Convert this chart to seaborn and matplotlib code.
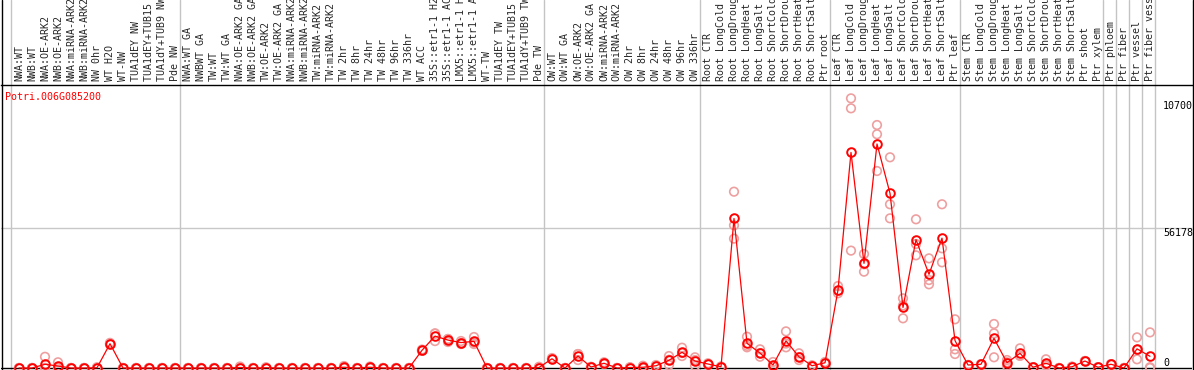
import pandas as pd
import matplotlib
matplotlib.use('Agg')
from matplotlib import pyplot as plt
from matplotlib import transforms as mtransforms
from matplotlib.lines import Line2D
import seaborn as sns

# Sample names (top axis)
sample_labels = [
    'NWA:WT', 'NWB:WT', 'NWA:OE-ARK2', 'NWB:OE-ARK2', 'NWA:miRNA-ARK2', 'NWB:miRNA-ARK2',
    'NW 0hr', 'WT H2O', 'WT-NW', 'TUA1dEY NW', 'TUA1dEY+TUB15 NW', 'TUA1dY+TUB9 NW', 'Pde NW',
    'NWA:WT GA', 'NWBWT GA', 'TW:WT', 'TW:WT GA', 'NWA:OE-ARK2 GA', 'NWB:OE-ARK2 GA',
    'TW:OE-ARK2', 'TW:OE-ARK2 GA', 'NWA:miRNA-ARK2 GA', 'NWB:miRNA-ARK2 GA', 'TW:miRNA-ARK2',
    'TW:miRNA-ARK2 GA', 'TW 2hr', 'TW 8hr', 'TW 24hr', 'TW 48hr', 'TW 96hr', 'TW 336hr', 'WT ACC',
    '35S::etr1-1 H2O', '35S::etr1-1 ACC', 'LMX5::etr1-1 H2O', 'LMX5::etr1-1 ACC', 'WT-TW',
    'TUA1dEY TW', 'TUA1dEY+TUB15 TW', 'TUA1dY+TUB9 TW', 'Pde TW',
    'OW:WT', 'OW:WT GA', 'OW:OE-ARK2', 'OW:OE-ARK2 GA', 'OW:miRNA-ARK2', 'OW:miRNA-ARK2 GA',
    'OW 2hr', 'OW 8hr', 'OW 24hr', 'OW 48hr', 'OW 96hr', 'OW 336hr',
    'Root CTR', 'Root LongCold', 'Root LongDrought', 'Root LongHeat', 'Root LongSalt',
    'Root ShortCold', 'Root ShortDrought', 'Root ShortHeat', 'Root ShortSalt', 'Ptr root',
    'Leaf CTR', 'Leaf LongCold', 'Leaf LongDrought', 'Leaf LongHeat', 'Leaf LongSalt',
    'Leaf ShortCold', 'Leaf ShortDrought', 'Leaf ShortHeat', 'Leaf ShortSalt', 'Ptr leaf',
    'Stem CTR', 'Stem LongCold', 'Stem LongDrought', 'Stem LongHeat', 'Stem LongSalt',
    'Stem ShortCold', 'Stem ShortDrought', 'Stem ShortHeat', 'Stem ShortSalt', 'Ptr shoot',
    'Ptr xylem', 'Ptr phloem', 'Ptr fiber', 'Ptr vessel', 'Ptr fiber vessel',
]

# Mean expression per sample
mean_expr = [
    0, 0, 1500, 800, 0, 0, 100, 9750, 0, 0, 0, 0, 0,
    0, 0, 0, 0, 200, 0, 100, 0, 0, 0, 0, 0, 300, 0, 300, 0, 0, 0,
    7100, 12800, 11200, 10200, 10700, 0, 0, 0, 0, 200,
    3700, 0, 4800, 400, 1900, 0, 200, 300, 900, 3100, 6300, 2800,
    1600, 500, 60000, 9900, 6000, 1200, 10900, 4500, 900, 2100,
    31300, 86500, 42000, 89900, 70100, 24300, 51500, 37600, 52100, 11000,
    1200, 1500, 11900, 2100, 5900, 300, 1900, 0, 500, 2800,
    300, 1500, 0, 7700, 4700,
]

# Replicates
rep_a = [
    0, 0, 4500, 2300, 0, 0, 300, 10100, 0, 0, 0, 0, 0,
    0, 0, 0, 0, 600, 0, 300, 0, 0, 0, 0, 0, 800, 0, 600, 0, 0, 0,
    7400, 13900, 11650, 10830, 12430, 0, 0, 0, 0, 500,
    4000, 0, 5600, 500, 2300, 0, 300, 900, 1200, 4800, 8150, 4300,
    1900, 600, 70750, 12560, 7500, 2400, 14700, 5900, 1100, 2400,
    32900, 108200, 45750, 97500, 84550, 27970, 59670, 44000, 65700, 19540,
    1200, 1500, 17660, 3200, 7900, 300, 3500, 0, 500, 2800,
    300, 1500, 0, 12300, 14300,
]
rep_b = [
    0, 0, 0, 0, 0, 0, 0, 9500, 0, 0, 0, 0, 0,
    0, 0, 0, 0, 0, 0, 0, 0, 0, 0, 0, 0, 100, 0, 300, 0, 0, 0,
    6900, 13800, 11650, 10000, 10050, 0, 0, 0, 0, 100,
    3500, 0, 5600, 400, 1700, 0, 200, 0, 800, 1200, 4800, 900,
    1400, 500, 57260, 8300, 4530, 600, 8300, 3200, 800, 1900,
    30000, 104200, 38650, 93800, 65700, 19940, 49760, 35300, 48030, 7500,
    1200, 1500, 13900, 800, 4900, 300, 1100, 0, 500, 2800,
    300, 1500, 0, 3500, 300,
]
rep_c = [
    0, 0, 0, 100, 0, 0, 0, 9650, 0, 0, 0, 0, 0,
    0, 0, 0, 0, 0, 0, 0, 0, 0, 0, 0, 0, 0, 0, 0, 0, 0, 0,
    7000, 10800, 10430, 9620, 9620, 0, 0, 0, 0, 0,
    3600, 0, 3200, 300, 1700, 0, 100, 0, 700, 3300, 6000, 3200,
    1500, 400, 51900, 8900, 6000, 600, 9800, 4400, 800, 2000,
    31000, 47100, 41600, 79050, 60060, 25100, 45220, 33580, 42400, 5620,
    1200, 1500, 4300, 2300, 4900, 300, 1100, 0, 500, 2800,
    300, 1500, 0, 7300, 0,
]

# First sample index of each tissue group (vertical separators)
group_starts = [0, 13, 41, 53, 63, 73, 84, 85, 86, 87, 88]

gene_id = 'Potri.006G085200'
ytick_values = [0, 56178, 107000]
ytick_labels = ['0', '56178', '10700']

n = len(sample_labels)
idx = list(range(n))
df_mean = pd.DataFrame({'idx': idx, 'value': mean_expr})
df_rep = pd.concat([pd.DataFrame({'idx': idx, 'value': r}) for r in (rep_a, rep_b, rep_c)])

sns.set_style('white')
plt.rcParams['font.family'] = ['DejaVu Sans Mono']

W, H = 1194, 370
fig = plt.figure(figsize=(W / 100, H / 100), dpi=100)
ax = fig.add_axes([1 / W, 0, 1191 / W, 285 / H])

# Replicates behind the mean line
sns.scatterplot(data=df_rep, x='idx', y='value', ax=ax, marker='o', s=38, zorder=3, legend=False)
coll = ax.collections[-1]
coll.set_facecolor('none')
coll.set_edgecolor('#eea0a0')
coll.set_linewidth(1.2)

sns.lineplot(data=df_mean, x='idx', y='value', ax=ax, color='red', linewidth=0.9, marker='o',
             markersize=6.2, markerfacecolor='none', markeredgecolor='red', markeredgewidth=1.4,
             errorbar=None, zorder=4)

ax.set_xlim(-18 / 13, (1192 - 19) / 13)
ax.set_ylim(-800, 113560)

ax.axhline(0, color='black', linewidth=1, zorder=2)
ax.axhline(ytick_values[1], color='#c8c8c8', linewidth=1, zorder=1)
for k in group_starts:
    ax.axvline(k - 8 / 13, ymin=0, ymax=H / 285, color='#c4c4c4', linewidth=1, clip_on=False, zorder=1)

ax.xaxis.tick_top()
ax.set_xticks(idx)
ax.set_xticklabels(sample_labels, rotation=90, fontsize=7.2)
ax.tick_params(axis='x', length=0, pad=3)
ax.set_yticks([])
ax.set_xlabel('')
ax.set_ylabel('')

for side in ['left', 'right', 'bottom']:
    ax.spines[side].set_visible(False)
ax.spines['top'].set_color('black')
ax.spines['top'].set_linewidth(1)

# outer frame on left and right
fig.add_artist(Line2D([1.5 / W, 1.5 / W], [0, 1], color='black', linewidth=1))
fig.add_artist(Line2D([1192.5 / W, 1192.5 / W], [0, 1], color='black', linewidth=1))

ax.text(4 / 1191, (H - 97) / 285, gene_id, transform=ax.transAxes, color='red',
        fontsize=7.2, ha='left', va='center')

trans = mtransforms.blended_transform_factory(ax.transAxes, ax.transData)
valigns = ['bottom', 'top', 'top']
for v, lab, va in zip(ytick_values, ytick_labels, valigns):
    ax.text((1163 - 1) / 1191, v, lab, transform=trans, fontsize=7.2, ha='left', va=va, color='black')

fig.savefig('out.png', dpi=100)
plt.close()
